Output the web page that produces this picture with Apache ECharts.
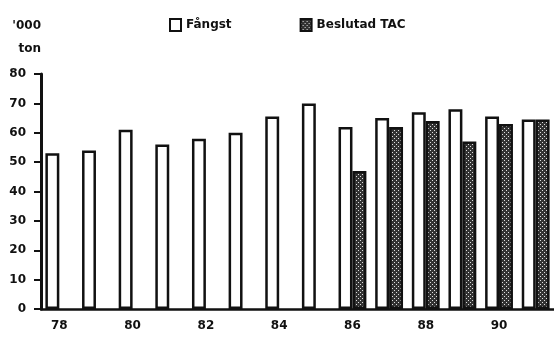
<!DOCTYPE html>
<html>
<head>
<meta charset="utf-8">
<script src="https://cdn.jsdelivr.net/npm/echarts@6/dist/echarts.min.js"></script>
<style>
  html, body { margin: 0; padding: 0; background: #fff; }
  #chart-container { width: 554px; height: 344px; }
</style>
</head>
<body>
<div id="chart-container"></div>
<script>
var years = ['78', '79', '80', '81', '82', '83', '84', '85', '86', '87', '88', '89', '90', '91'];
var fangst = [53, 54, 61, 56, 58, 60, 65.5, 70, 62, 65, 67, 68, 65.5, 64.5];
var tac = [null, null, null, null, null, null, null, null, 47, 62, 64, 57, 63, 64.5];
var yTicks = [0, 10, 20, 30, 40, 50, 60, 70, 80];

// dotted dark fill like the screened bars
var pat = document.createElement('canvas');
pat.width = 4;
pat.height = 4;
var ctx = pat.getContext('2d');
ctx.fillStyle = '#333333';
ctx.fillRect(0, 0, 4, 4);
ctx.fillStyle = '#e0e0e0';
ctx.fillRect(0, 0, 1, 1);
ctx.fillRect(2, 2, 1, 1);

var chartDom = document.getElementById('chart-container');
var myChart = echarts.init(chartDom);
var font = 'DejaVu Sans';

var option = {
  backgroundColor: '#ffffff',
  animation: false,
  textStyle: { fontFamily: font },
  legend: {
    left: 164,
    top: 13,
    icon: 'rect',
    itemWidth: 11,
    itemHeight: 12,
    itemGap: 68,
    textStyle: { fontFamily: font, fontWeight: 'bold', fontSize: 12, color: '#111' },
    data: ['Fångst', 'Beslutad TAC']
  },
  grid: { left: 41, right: 0, top: 74, bottom: 35 },
  xAxis: {
    type: 'category',
    data: years,
    axisLine: { lineStyle: { color: '#111', width: 2.5 } },
    axisTick: { length: 5, lineStyle: { color: '#111', width: 1.5 } },
    axisLabel: {
      margin: 11,
      fontFamily: font, fontWeight: 'bold', fontSize: 12, color: '#111',
      formatter: function (v, i) { return i % 2 === 0 ? v : ''; },
      interval: 0
    }
  },
  yAxis: {
    type: 'value',
    min: yTicks[0],
    max: yTicks[yTicks.length - 1],
    interval: 10,
    name: "'000\nton",
    nameLocation: 'end',
    nameGap: 14,
    nameTextStyle: {
      fontFamily: font, fontWeight: 'bold', fontSize: 12, color: '#111',
      align: 'right', lineHeight: 23
    },
    splitLine: { show: false },
    axisLine: { show: true, lineStyle: { color: '#111', width: 3 } },
    axisTick: { show: true, length: 7, lineStyle: { color: '#111', width: 2 } },
    axisLabel: { margin: 15, fontFamily: font, fontWeight: 'bold', fontSize: 12, color: '#111' }
  },
  series: [
    {
      name: 'Fångst',
      type: 'bar',
      data: fangst,
      barGap: '0%',
      barCategoryGap: '24%',
      itemStyle: { color: '#ffffff', borderColor: '#111', borderWidth: 2.5 }
    },
    {
      name: 'Beslutad TAC',
      type: 'bar',
      data: tac,
      itemStyle: { color: { image: pat, repeat: 'repeat' }, borderColor: '#111', borderWidth: 2.5 }
    }
  ]
};

option && myChart.setOption(option);
</script>
</body>
</html>
